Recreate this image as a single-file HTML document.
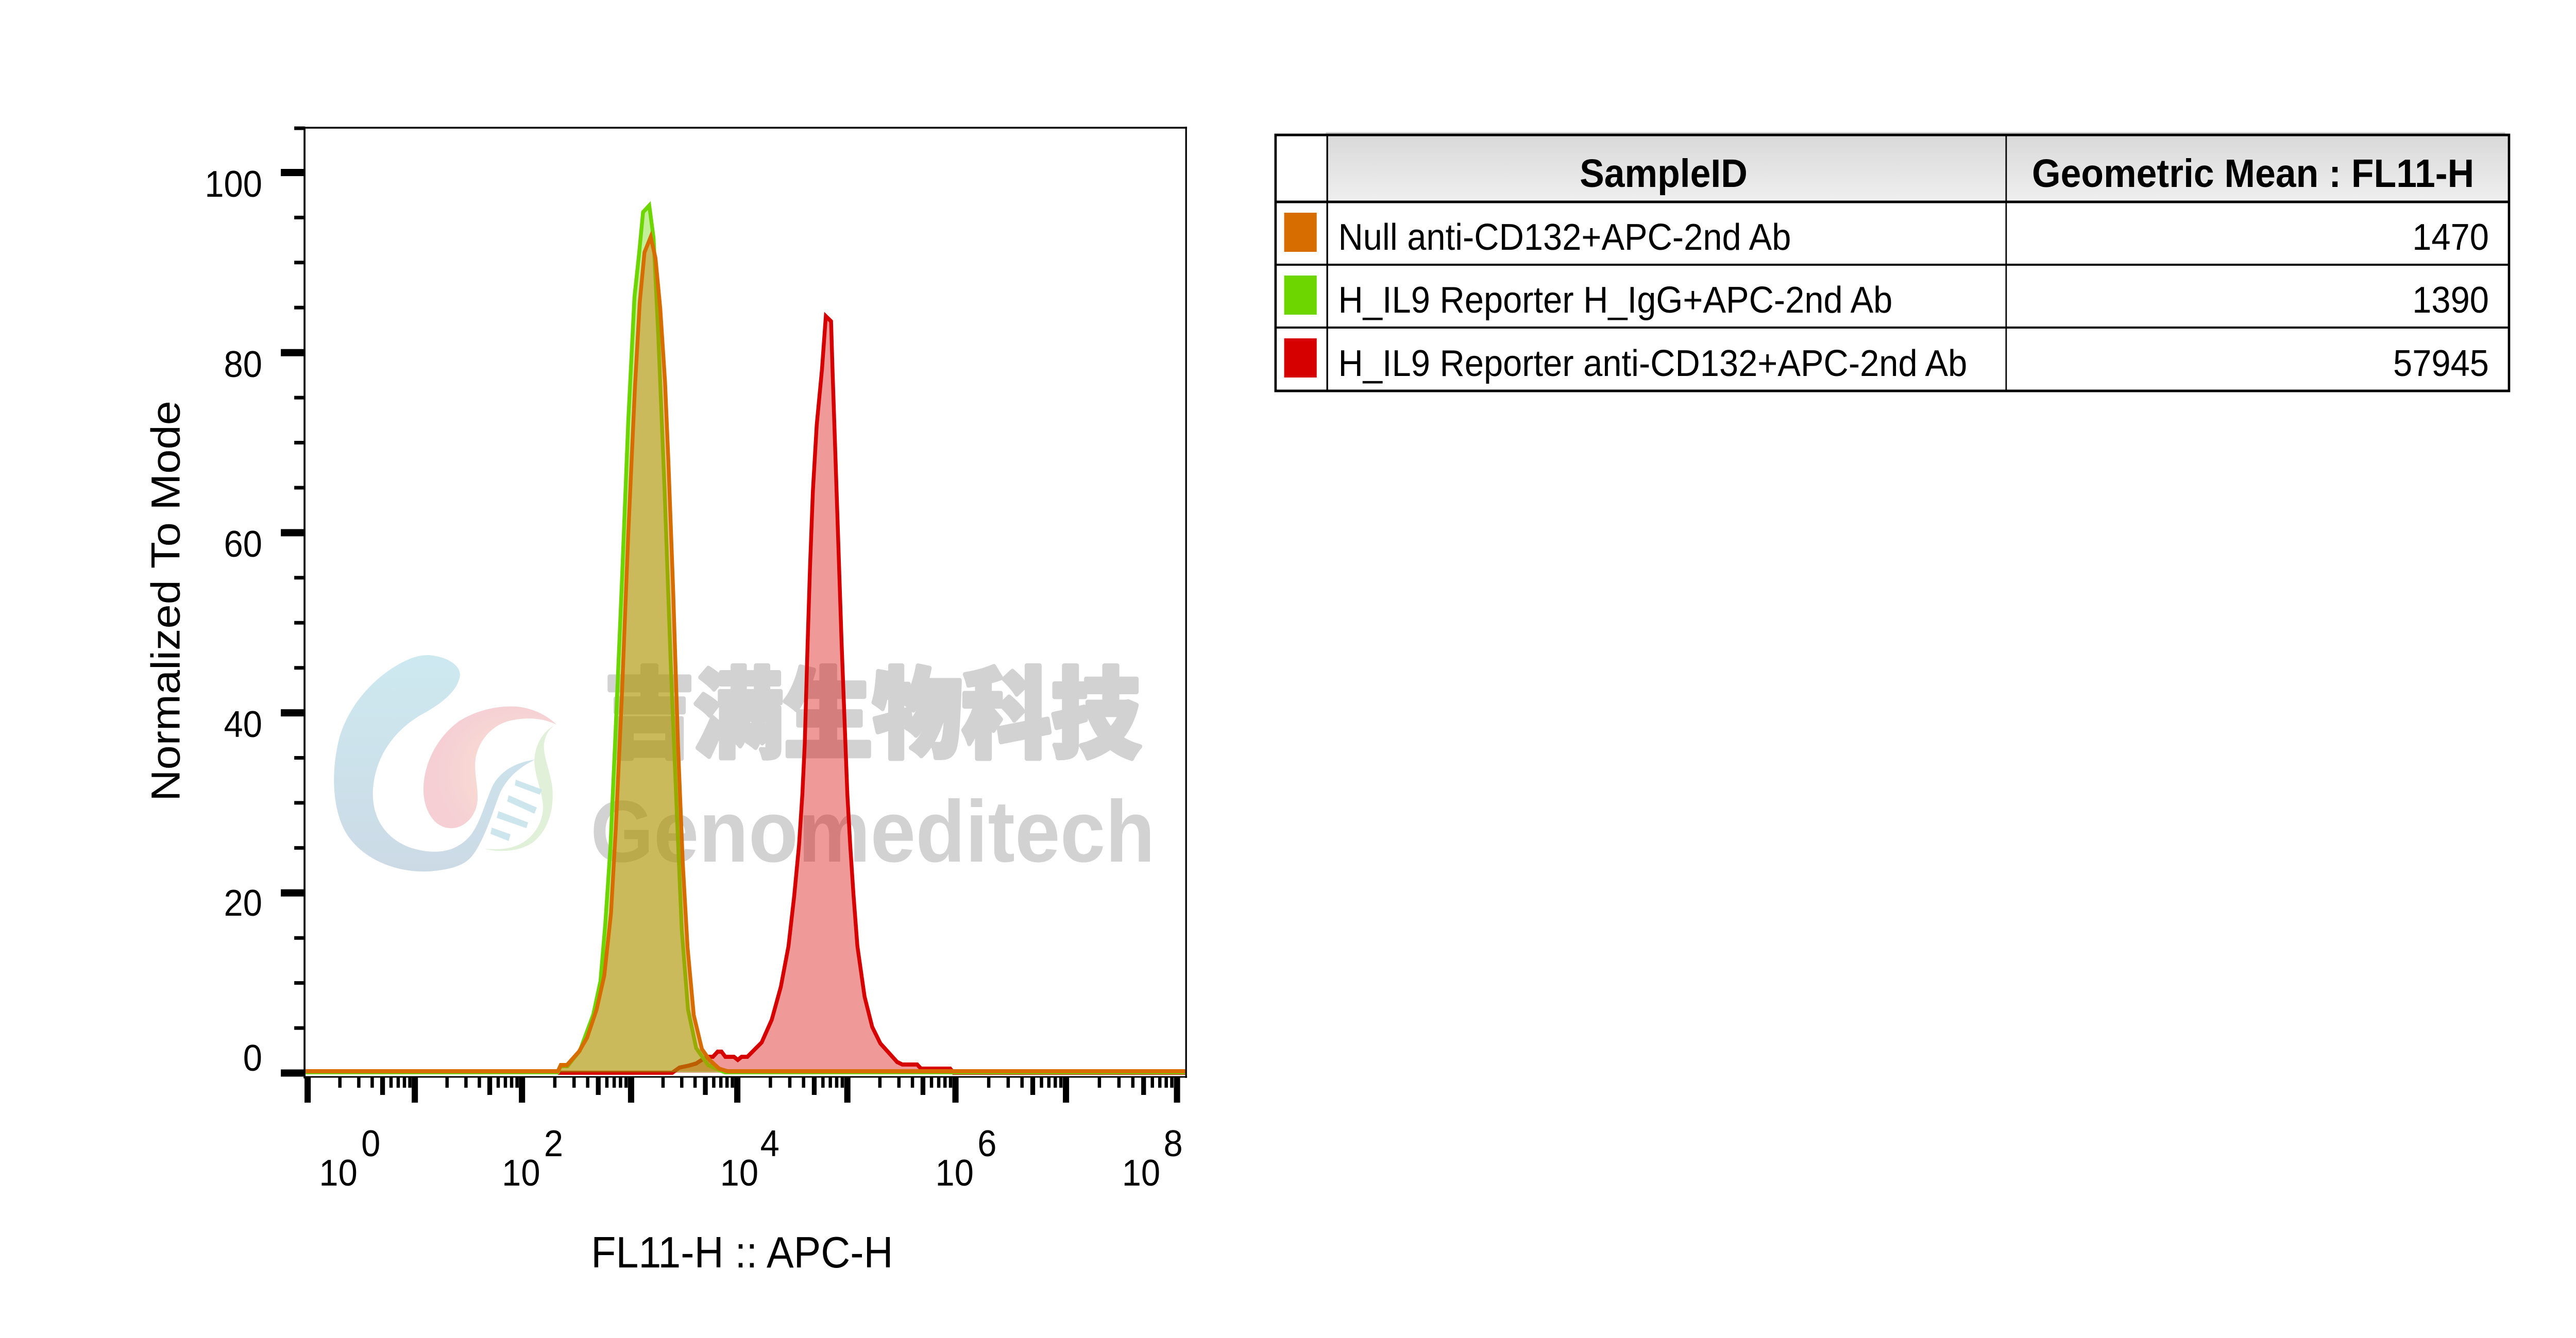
<!DOCTYPE html>
<html>
<head>
<meta charset="utf-8">
<style>
html,body{margin:0;padding:0;background:#fff;overflow:hidden;width:100%;height:100%;}
svg{display:block;width:100vw;height:100vh;}
text{font-family:"Liberation Sans",Arial,sans-serif;}
</style>
</head>
<body>
<svg xmlns="http://www.w3.org/2000/svg" viewBox="0 0 5384 2598" preserveAspectRatio="none">
<defs>
  <linearGradient id="hdr" x1="0" y1="0" x2="0" y2="1">
    <stop offset="0" stop-color="#d9d9d9"/>
    <stop offset="1" stop-color="#efefef"/>
  </linearGradient>
  <linearGradient id="blueG" x1="0" y1="0" x2="0" y2="1">
    <stop offset="0" stop-color="#cde9f0"/>
    <stop offset="1" stop-color="#ccdae6"/>
  </linearGradient>
  <radialGradient id="pinkG" cx="0.7" cy="0.55" r="0.6">
    <stop offset="0" stop-color="#fbe3d2"/>
    <stop offset="1" stop-color="#f5cfd4"/>
  </radialGradient>
</defs>
<rect x="0" y="0" width="5384" height="2598" fill="#fff"/>

<!-- ===== Watermark (under histograms) ===== -->
<g>
  <path d="M 897,1272 C 940,1276 968,1295 960,1318 C 952,1345 920,1368 880,1388 C 830,1415 790,1460 781,1520 C 772,1580 800,1625 855,1645 C 910,1662 955,1655 985,1620 C 1005,1595 1015,1555 1030,1525 C 1048,1495 1080,1480 1118,1475 C 1085,1490 1060,1510 1045,1540 C 1030,1575 1015,1625 990,1658 C 975,1678 950,1688 897,1692 C 830,1695 760,1670 725,1620 C 695,1575 690,1500 710,1430 C 735,1355 800,1300 860,1278 C 875,1273 885,1272 897,1272 Z" fill="url(#blueG)"/>
  <path d="M 1163,1407 C 1130,1392 1095,1393 1063,1400 C 1025,1410 1000,1440 994,1473 C 990,1500 1000,1530 998,1555 C 994,1590 965,1610 940,1608 C 905,1606 885,1570 885,1533 C 886,1480 915,1430 960,1400 C 1000,1377 1045,1370 1080,1372 C 1115,1375 1145,1390 1163,1407 Z" fill="url(#pinkG)"/>
  <path d="M 1163,1407 C 1140,1415 1120,1440 1117,1473 C 1115,1500 1133,1535 1135,1565 C 1136,1600 1110,1635 1070,1645 C 1050,1650 1030,1649 1013,1648 C 1040,1655 1085,1655 1115,1635 C 1145,1612 1157,1575 1155,1535 C 1152,1500 1135,1470 1137,1445 C 1140,1425 1150,1412 1163,1407 Z" fill="#e1f0d8"/>
  <polygon points="1078,1514 1133,1533 1128,1543 1076,1525" fill="#cde6ee"/>
  <polygon points="1063,1544 1122,1568 1117,1580 1060,1556" fill="#cde6ee"/>
  <polygon points="1042,1575 1104,1597 1100,1608 1038,1588" fill="#cde6ee"/>
  <polygon points="1028,1607 1067,1620 1063,1633 1025,1619" fill="#cde6ee"/>
  <text x="1264" y="1455" font-size="190" font-weight="900" fill="#d2d2d2" stroke="#d2d2d2" stroke-width="9" stroke-linejoin="round" textLength="1120" lengthAdjust="spacingAndGlyphs" style="font-family:'Liberation Sans','Noto Sans CJK SC','WenQuanYi Zen Hei',sans-serif;">吉满生物科技</text>
  <text x="1234" y="1673" font-size="170" font-weight="700" fill="#d2d2d2" textLength="1180" lengthAdjust="spacingAndGlyphs">Genomeditech</text>
</g>

<!-- ===== Histograms ===== -->
<!-- Red -->
<path d="M 1166,2083 L 1405,2083 L 1420,2073 L 1440,2069 L 1455,2065 L 1470,2056 L 1480,2052 L 1490,2052 L 1500,2042 L 1508,2042 L 1516,2052 L 1534,2052 L 1542,2058 L 1550,2052 L 1562,2052 L 1592,2024 L 1613,1980 L 1632,1916 L 1648,1837 L 1660,1739 L 1670,1641 L 1677,1542 L 1682,1444 L 1688,1248 L 1693,1100 L 1699,953 L 1707,825 L 1718,717 L 1726,614 L 1737,624 L 1740,717 L 1745,855 L 1752,1051 L 1759,1248 L 1767,1444 L 1771,1542 L 1777,1641 L 1784,1739 L 1792,1837 L 1807,1935 L 1823,1994 L 1840,2026 L 1875,2062 L 1886,2067 L 1917,2067 L 1925,2075 L 1986,2075 L 1993,2083 L 2479,2083 Z" fill="rgb(214,0,0)" fill-opacity="0.4"/>
<path d="M 1166,2083 L 1405,2083 L 1420,2073 L 1440,2069 L 1455,2065 L 1470,2056 L 1480,2052 L 1490,2052 L 1500,2042 L 1508,2042 L 1516,2052 L 1534,2052 L 1542,2058 L 1550,2052 L 1562,2052 L 1592,2024 L 1613,1980 L 1632,1916 L 1648,1837 L 1660,1739 L 1670,1641 L 1677,1542 L 1682,1444 L 1688,1248 L 1693,1100 L 1699,953 L 1707,825 L 1718,717 L 1726,614 L 1737,624 L 1740,717 L 1745,855 L 1752,1051 L 1759,1248 L 1767,1444 L 1771,1542 L 1777,1641 L 1784,1739 L 1792,1837 L 1807,1935 L 1823,1994 L 1840,2026 L 1875,2062 L 1886,2067 L 1917,2067 L 1925,2075 L 1986,2075 L 1993,2083 L 2479,2083" fill="none" stroke="#d60000" stroke-width="8" stroke-linejoin="miter"/>

<!-- Green -->
<path d="M 636,2082 L 1166,2082 L 1172,2070 L 1186,2070 L 1212,2040 L 1240,1970 L 1255,1905 L 1265,1795 L 1276,1642 L 1286,1433 L 1300,1126 L 1313,819 L 1326,577 L 1336,490 L 1344,412 L 1357,399 L 1366,462 L 1376,654 L 1389,950 L 1402,1291 L 1415,1587 L 1425,1806 L 1438,1960 L 1455,2035 L 1480,2068 L 1515,2082 L 2479,2082 Z" fill="rgb(108,214,0)" fill-opacity="0.4"/>
<path d="M 636,2082 L 1166,2082 L 1172,2070 L 1186,2070 L 1212,2040 L 1240,1970 L 1255,1905 L 1265,1795 L 1276,1642 L 1286,1433 L 1300,1126 L 1313,819 L 1326,577 L 1336,490 L 1344,412 L 1357,399 L 1366,462 L 1376,654 L 1389,950 L 1402,1291 L 1415,1587 L 1425,1806 L 1438,1960 L 1455,2035 L 1480,2068 L 1515,2082 L 2479,2082" fill="none" stroke="#6dd600" stroke-width="8" stroke-linejoin="miter"/>

<!-- Orange -->
<path d="M 636,2080 L 1166,2080 L 1172,2068 L 1185,2068 L 1210,2042 L 1227,2015 L 1247,1960 L 1263,1894 L 1277,1773 L 1287,1609 L 1300,1345 L 1313,1038 L 1327,753 L 1337,588 L 1347,490 L 1360,460 L 1370,501 L 1380,599 L 1390,742 L 1397,896 L 1407,1148 L 1417,1444 L 1427,1675 L 1437,1839 L 1450,1971 L 1467,2037 L 1483,2058 L 1503,2075 L 1520,2080 L 2479,2080 Z" fill="rgb(215,108,0)" fill-opacity="0.4"/>
<path d="M 636,2080 L 1166,2080 L 1172,2068 L 1185,2068 L 1210,2042 L 1227,2015 L 1247,1960 L 1263,1894 L 1277,1773 L 1287,1609 L 1300,1345 L 1313,1038 L 1327,753 L 1337,588 L 1347,490 L 1360,460 L 1370,501 L 1380,599 L 1390,742 L 1397,896 L 1407,1148 L 1417,1444 L 1427,1675 L 1437,1839 L 1450,1971 L 1467,2037 L 1483,2058 L 1503,2075 L 1520,2080 L 2479,2080" fill="none" stroke="#d76d00" stroke-width="8" stroke-linejoin="miter"/>

<!-- ===== Frame ===== -->
<line x1="636.5" y1="246" x2="636.5" y2="2094" stroke="#000" stroke-width="4"/>
<line x1="635" y1="248" x2="2481" y2="248" stroke="#000" stroke-width="3.5"/>
<line x1="2479" y1="246" x2="2479" y2="2093" stroke="#000" stroke-width="3.5"/>
<line x1="635" y1="2091" x2="2481" y2="2091" stroke="#000" stroke-width="3"/>

<!-- Y ticks -->
<path d="M 587,2083.5 H 637 M 587,1733.8 H 637 M 587,1384.1 H 637 M 587,1034.4 H 637 M 587,684.7 H 637 M 587,335 H 637" stroke="#000" stroke-width="14"/>
<path d="M 615,1996.1 H 637 M 615,1908.6 H 637 M 615,1821.2 H 637 M 615,1646.4 H 637 M 615,1558.9 H 637 M 615,1471.5 H 637 M 615,1296.7 H 637 M 615,1209.2 H 637 M 615,1121.8 H 637 M 615,947 H 637 M 615,859.5 H 637 M 615,772.1 H 637 M 615,597.3 H 637 M 615,509.8 H 637 M 615,422.4 H 637 M 615,249 H 637" stroke="#000" stroke-width="7"/>

<!-- Y tick labels -->
<g font-size="72" text-anchor="end" fill="#000">
  <text x="548" y="382">100</text>
  <text x="548" y="732">80</text>
  <text x="548" y="1081">60</text>
  <text x="548" y="1431">40</text>
  <text x="548" y="1778">20</text>
  <text x="548" y="2079">0</text>
</g>

<!-- X ticks -->
<path d="M 643,2092 V 2141 M 867,2092 V 2141 M 1091,2092 V 2141 M 1319,2092 V 2141 M 1541,2092 V 2141 M 1771,2092 V 2141 M 1997,2092 V 2141 M 2228,2092 V 2141 M 2460,2092 V 2141" stroke="#000" stroke-width="13"/>
<path d="M 799.6,2092 V 2126 M 1023.6,2092 V 2126 M 1250.4,2092 V 2126 M 1474.2,2092 V 2126 M 1701.8,2092 V 2126 M 1929,2092 V 2126 M 2158.5,2092 V 2126 M 2390.2,2092 V 2126" stroke="#000" stroke-width="10"/>
<path d="
M 710.4,2092 V 2112 M 749.9,2092 V 2112 M 777.9,2092 V 2112 M 817.3,2092 V 2112 M 832.3,2092 V 2112 M 845.3,2092 V 2112 M 856.7,2092 V 2112
M 934.4,2092 V 2112 M 973.9,2092 V 2112 M 1001.9,2092 V 2112 M 1041.3,2092 V 2112 M 1056.3,2092 V 2112 M 1069.3,2092 V 2112 M 1080.7,2092 V 2112
M 1159.6,2092 V 2112 M 1199.8,2092 V 2112 M 1228.3,2092 V 2112 M 1268.4,2092 V 2112 M 1283.7,2092 V 2112 M 1296.9,2092 V 2112 M 1308.6,2092 V 2112
M 1385.8,2092 V 2112 M 1424.9,2092 V 2112 M 1452.7,2092 V 2112 M 1491.8,2092 V 2112 M 1506.6,2092 V 2112 M 1519.5,2092 V 2112 M 1530.8,2092 V 2112
M 1610.2,2092 V 2112 M 1650.7,2092 V 2112 M 1679.5,2092 V 2112 M 1720,2092 V 2112 M 1735.4,2092 V 2112 M 1748.7,2092 V 2112 M 1760.5,2092 V 2112
M 1839,2092 V 2112 M 1878.8,2092 V 2112 M 1907.1,2092 V 2112 M 1946.9,2092 V 2112 M 1962,2092 V 2112 M 1975.1,2092 V 2112 M 1986.7,2092 V 2112
M 2066.5,2092 V 2112 M 2107.2,2092 V 2112 M 2136.1,2092 V 2112 M 2176.8,2092 V 2112 M 2192.2,2092 V 2112 M 2205.6,2092 V 2112 M 2217.4,2092 V 2112
M 2297.8,2092 V 2112 M 2338.7,2092 V 2112 M 2367.7,2092 V 2112 M 2408.5,2092 V 2112 M 2424.1,2092 V 2112 M 2437.5,2092 V 2112 M 2449.2,2092 V 2112" stroke="#000" stroke-width="7"/>

<!-- X tick labels -->
<g font-size="72" fill="#000">
  <text x="667" y="2302">10</text><text x="755" y="2245">0</text>
  <text x="1049" y="2302">10</text><text x="1137" y="2245">2</text>
  <text x="1505" y="2302">10</text><text x="1589" y="2245">4</text>
  <text x="1955" y="2302">10</text><text x="2043" y="2245">6</text>
  <text x="2345" y="2302">10</text><text x="2432" y="2245">8</text>
</g>

<!-- Axis titles -->
<text x="1551" y="2461" font-size="85" text-anchor="middle" fill="#000">FL11-H :: APC-H</text>
<text transform="translate(375,1167) rotate(-90)" x="0" y="0" font-size="85" text-anchor="middle" fill="#000">Normalized To Mode</text>

<!-- ===== Legend table ===== -->
<line x1="2771" y1="258" x2="5236" y2="258" stroke="#cfcfcf" stroke-width="3"/>
<rect x="2774" y="262" width="2470" height="130" fill="url(#hdr)"/>
<rect x="2666" y="262" width="2578" height="497" fill="none" stroke="#000" stroke-width="5"/>
<line x1="2666" y1="392" x2="5244" y2="392" stroke="#000" stroke-width="5"/>
<line x1="2666" y1="514" x2="5244" y2="514" stroke="#000" stroke-width="4"/>
<line x1="2666" y1="636" x2="5244" y2="636" stroke="#000" stroke-width="4"/>
<line x1="2774" y1="262" x2="2774" y2="759" stroke="#000" stroke-width="3.5"/>
<line x1="4193" y1="262" x2="4193" y2="759" stroke="#000" stroke-width="3"/>

<rect x="2684" y="413" width="68" height="76" fill="#d76d00"/>
<rect x="2684" y="535" width="68" height="76" fill="#6dd600"/>
<rect x="2684" y="657" width="68" height="76" fill="#d60000"/>

<g font-size="77" font-weight="700" text-anchor="middle" fill="#000">
  <text x="3477" y="363">SampleID</text>
  <text x="4709" y="363">Geometric Mean : FL11-H</text>
</g>
<g font-size="72" fill="#000">
  <text x="2797" y="485">Null anti-CD132+APC-2nd Ab</text>
  <text x="2797" y="607">H_IL9 Reporter H_IgG+APC-2nd Ab</text>
  <text x="2797" y="730">H_IL9 Reporter anti-CD132+APC-2nd Ab</text>
</g>
<g font-size="72" fill="#000" text-anchor="end">
  <text x="5202" y="485">1470</text>
  <text x="5202" y="607">1390</text>
  <text x="5202" y="730">57945</text>
</g>
</svg>
</body>
</html>
